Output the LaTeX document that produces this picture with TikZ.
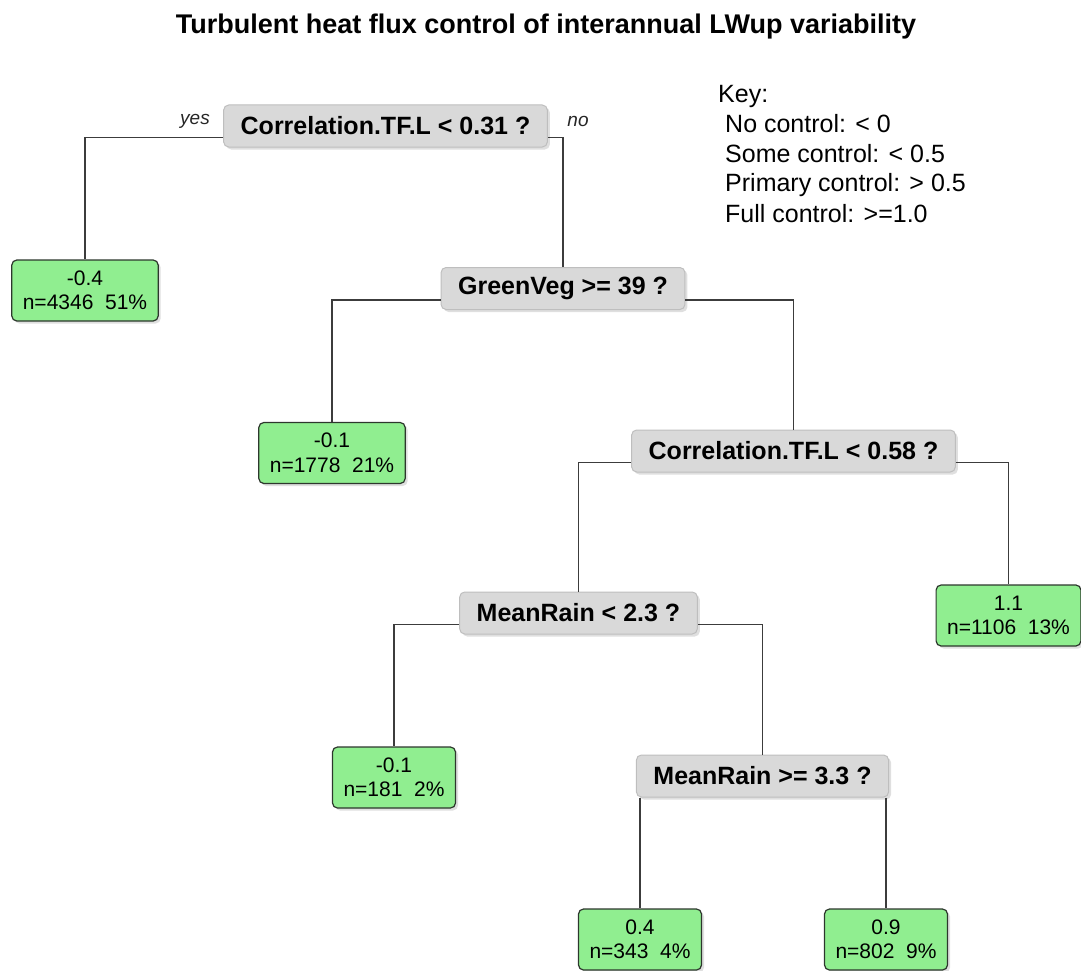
\documentclass[tikz,border=0pt]{standalone}
\usepackage{fontspec}
\setmainfont{Liberation Sans}
\usetikzlibrary{shadows}

\definecolor{splitgrey}{RGB}{217,217,217}
\definecolor{splitedge}{RGB}{190,190,190}
\definecolor{leafgreen}{RGB}{144,238,144}
\definecolor{leafedge}{RGB}{45,55,45}
\definecolor{branchgrey}{RGB}{60,60,60}

\begin{document}
\begin{tikzpicture}[x=1pt,y=-1pt]
	\tikzstyle{split} = [rectangle, rounded corners=5pt, draw=splitedge, fill=splitgrey, line width=1pt, inner xsep=17pt, inner ysep=0pt, minimum height=42pt, font=\fontsize{25}{30}\selectfont\bfseries, drop shadow={shadow xshift=2.5pt, shadow yshift=-2.5pt, fill=black!25, opacity=0.5}]
	\tikzstyle{leaf} = [rectangle, rounded corners=5pt, draw=leafedge, fill=leafgreen, line width=1.2pt, inner xsep=11pt, inner ysep=0pt, minimum height=61pt, align=center, font=\fontsize{21}{24.5}\selectfont, drop shadow={shadow xshift=2.5pt, shadow yshift=-2.5pt, fill=black!25, opacity=0.5}]
	\tikzstyle{branch} = [draw=branchgrey, line width=1.2pt]
	\tikzstyle{answer} = [font=\fontsize{19}{22}\selectfont\itshape, text=black!85]
	\tikzstyle{keyline} = [anchor=base west, inner sep=0pt, font=\fontsize{25}{30}\selectfont]
	\useasboundingbox (0,0) rectangle (1081,971);
	% title and key
	\node[anchor=base, inner sep=0pt, font=\fontsize{27}{32}\selectfont\bfseries](title) at (546,34){Turbulent heat flux control of interannual LWup variability};
	\node[keyline](key0) at (718,103){Key:};
	\node[keyline](key1) at (725,132){No control: < 0};
	\node[keyline](key2) at (725,162){Some control: < 0.5};
	\node[keyline](key3) at (725,191){Primary control: > 0.5};
	\node[keyline](key4) at (725,222){Full control: >=1.0};
	% splits
	\node[split](split1) at (385.5,126){Correlation.TF.L < 0.31 ?};
	\node[split](split2) at (563,288.5){GreenVeg >= 39 ?};
	\node[split](split3) at (793.5,451){Correlation.TF.L < 0.58 ?};
	\node[split](split4) at (578.5,613){MeanRain < 2.3 ?};
	\node[split](split5) at (762.5,776){MeanRain >= 3.3 ?};
	% leaves
	\node[leaf](leaf1) at (85,290.5){-0.4\\n=4346\ \ 51\%};
	\node[leaf](leaf2) at (332,453){-0.1\\n=1778\ \ 21\%};
	\node[leaf](leaf3) at (1008.5,615.5){1.1\\n=1106\ \ 13\%};
	\node[leaf](leaf4) at (394,777.5){-0.1\\n=181\ \ 2\%};
	\node[leaf](leaf5) at (640,939.5){0.4\\n=343\ \ 4\%};
	\node[leaf](leaf6) at (886,939.5){0.9\\n=802\ \ 9\%};
	\node[answer](yes) at (195,121){yes};
	\node[answer](no) at (578,121){no};
	% branches
	\draw[branch] ([yshift=-11.5pt]split1.west) -| (leaf1.north);
	\draw[branch] ([yshift=-11.5pt]split1.east) -| (split2.north);
	\draw[branch] ([yshift=-11.5pt]split2.west) -| (leaf2.north);
	\draw[branch] ([yshift=-11.5pt]split2.east) -| (split3.north);
	\draw[branch] ([yshift=-11.5pt]split3.west) -| (split4.north);
	\draw[branch] ([yshift=-11.5pt]split3.east) -| (leaf3.north);
	\draw[branch] ([yshift=-11.5pt]split4.west) -| (leaf4.north);
	\draw[branch] ([yshift=-11.5pt]split4.east) -| (split5.north);
	\draw[branch] (split5.south -| leaf5.north) -- (leaf5.north);
	\draw[branch] (split5.south -| leaf6.north) -- (leaf6.north);
\end{tikzpicture}
\end{document}
